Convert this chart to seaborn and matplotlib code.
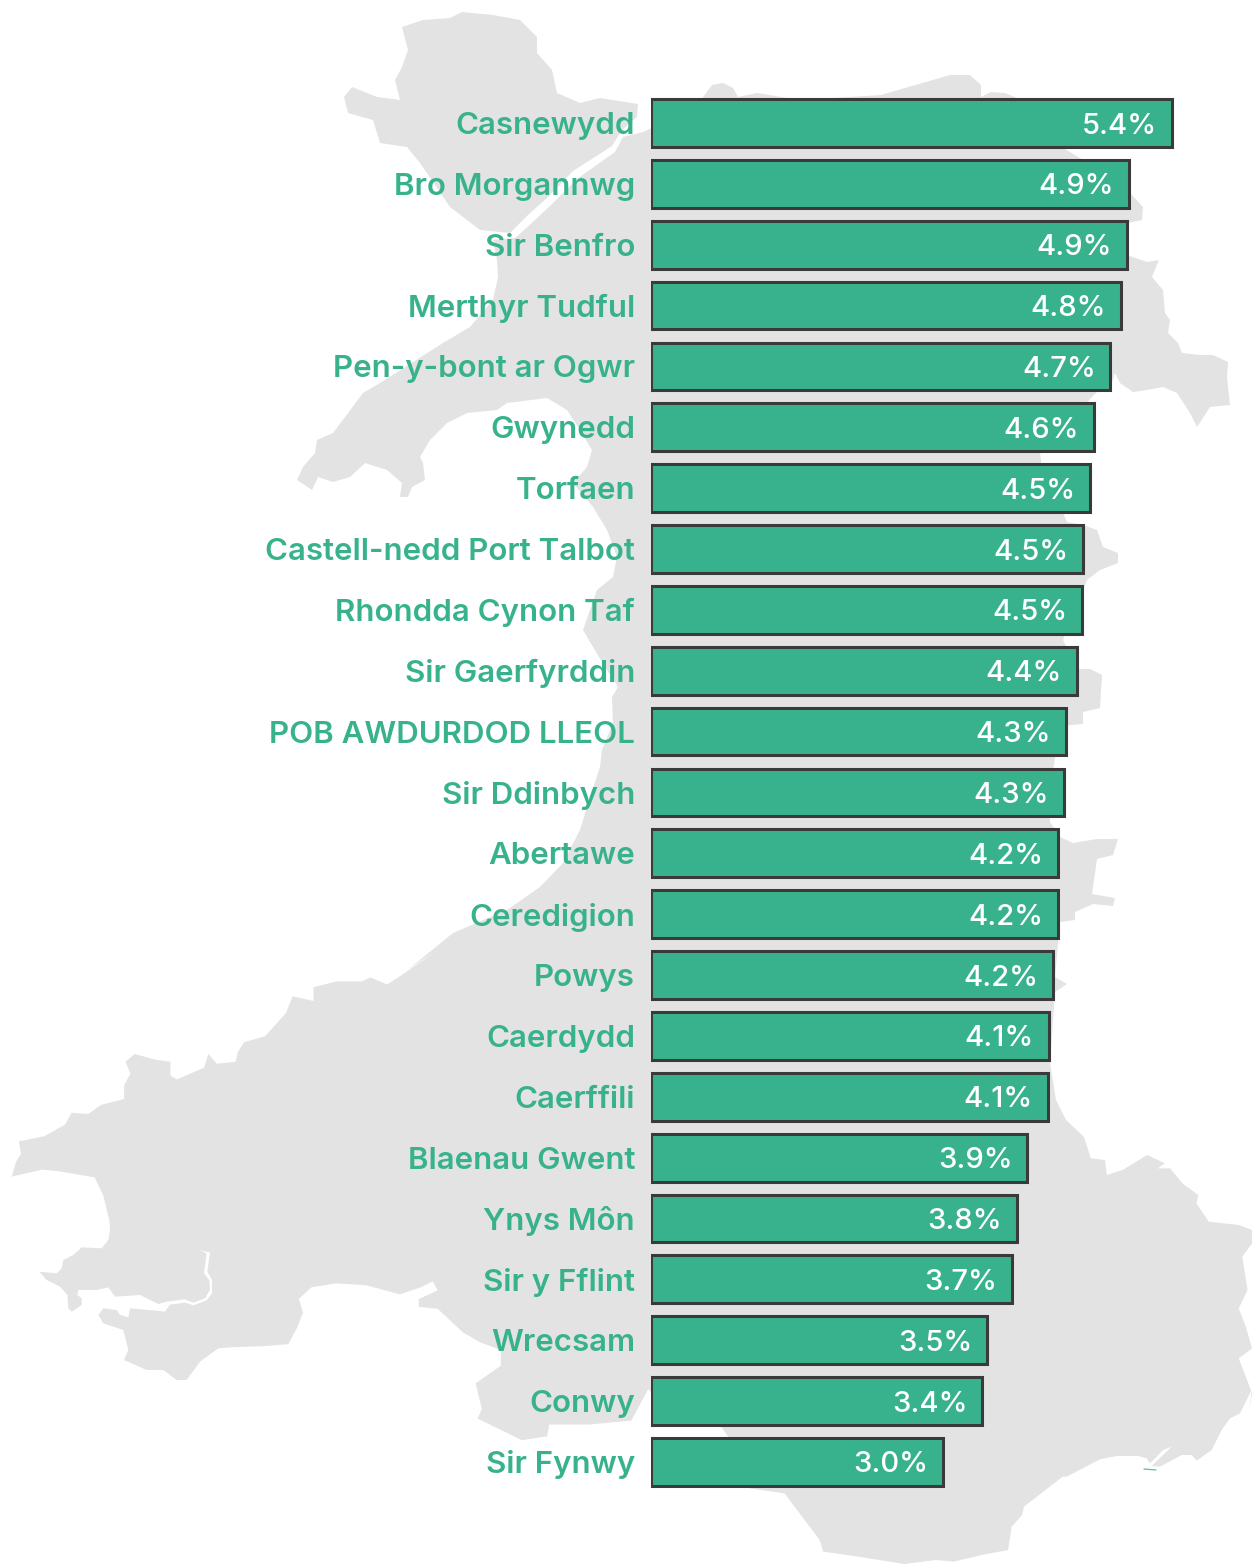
import matplotlib
matplotlib.use("Agg")
import matplotlib.pyplot as plt
import pandas as pd
import seaborn as sns

# ---------- data ----------
areas = ["Casnewydd", "Bro Morgannwg", "Sir Benfro", "Merthyr Tudful", "Pen-y-bont ar Ogwr",
         "Gwynedd", "Torfaen", "Castell-nedd Port Talbot", "Rhondda Cynon Taf", "Sir Gaerfyrddin",
         "POB AWDURDOD LLEOL", "Sir Ddinbych", "Abertawe", "Ceredigion", "Powys", "Caerdydd",
         "Caerffili", "Blaenau Gwent", "Ynys Môn", "Sir y Fflint", "Wrecsam", "Conwy", "Sir Fynwy"]
values = [5.40, 4.95, 4.93, 4.87, 4.76, 4.59, 4.55, 4.48, 4.47, 4.41, 4.30, 4.28,
          4.22, 4.22, 4.17, 4.12, 4.11, 3.90, 3.79, 3.74, 3.48, 3.43, 3.03]
value_labels = ["5.4%", "4.9%", "4.9%", "4.8%", "4.7%", "4.6%", "4.5%", "4.5%", "4.5%", "4.4%",
                "4.3%", "4.3%", "4.2%", "4.2%", "4.2%", "4.1%", "4.1%", "3.9%", "3.8%", "3.7%",
                "3.5%", "3.4%", "3.0%"]

# ---------- decorative map silhouette (image pixels) ----------
anglesey = [(638,104),(600,98),(580,103),(557,93),(552,70),(537,53),(537,37),(520,20),(493,15),
            (462,12),(450,18),(423,20),(402,27),(408,50),(402,67),(395,80),(400,100),(377,97),
            (352,87),(344,97),(348,113),(373,120),(380,143),(407,147),(420,163),(450,207),
            (480,230),(510,233),(528,215),(547,198),(573,171),(612,146),(622,130),(637,117)]

z3a = [(1040,0),(960,60),(920,88),(880,70),(860,80),(800,80),(745,95),(745,130),(695,118),(680,160),
       (630,220),(580,235),(565,260),(560,285),(515,290),(495,265),(485,300),(420,330),(405,320),
       (405,285),(370,280),(320,265),(298,285),(310,315),(295,345),(295,380),(240,395),(210,418),
       (170,415),(155,445),(105,475),(45,488),(50,520),(38,540),(28,578),(100,560),(145,565),(225,580),
       (245,625),(260,690)]
z3a = [(x / 2.376, 950 + y / 2.55) for x, y in z3a]

sw = [(240,0),(235,30),(215,55),(155,52),(130,75),(100,90),(95,115),(80,130),(28,125),(50,150),(90,170),
      (112,195),(115,235),(125,245),(155,225),(155,205),(142,195),(145,180),(200,180),(235,172),(255,200),
      (330,195),(385,222),(410,215),(465,208),(490,218),(525,205),(540,180),(538,150),(522,130),(530,70),
      (508,60),(540,68),(532,125),(546,150),(546,190),(530,211),(490,226),(465,218),(420,224),(405,245),
      (380,242),(300,235),(295,262),(270,255),(260,240),(220,235),(205,255),(220,280),(280,300),(295,360),
      (282,390),(350,420),(400,420),(440,450),(470,450),(510,395),(565,355),(600,352)]
sw = [(30 + x / 3, 1230 + y / 3) for x, y in sw]

z3b = [(630,1010),(685,1005),(705,965),(720,925),(710,890),(740,860),(800,850),(870,855),(950,878),
       (1000,860),(1028,845),(1040,868),(995,890),(995,910),(1040,915),(1100,975),(1140,1000),(1190,1020),
       (1190,1060),(1130,1105),(1145,1170),(1135,1195),(1240,1250),(1300,1240),(1305,1210),(1400,1210),
       (1500,1200),(1540,1120)]
z3b = [(x / 2.376, 950 + y / 2.55) for x, y in z3b]

z4a = [(1110,175),(1150,180),(1155,225),(1200,210),(1270,165),(1320,190),(1300,205),(1335,205),
       (1370,250),(1415,285),(1410,310),(1445,365),(1530,375),(1568,390),(1568,430),(1540,470),
       (1555,570),(1530,625),(1550,680),(1568,745),(1530,775),(1550,830),(1568,880),(1560,930)]
z4a = [(700 + x / 2.84, 1100 + y / 3) for x, y in z4a]

se = [(755,30),(720,100),(690,115),(665,150),(635,210),(590,242),(575,225),(545,225),(480,260),(455,258),
      (515,200),(490,210),(450,250),(440,235),(415,228),(350,228),(300,238),(200,290)]
se = [(1000 + x / 3, 1380 + y / 3) for x, y in se]

z4b = [(1030,1130),(920,1220),(915,1245),(885,1280),(875,1350),(800,1365),(720,1385),(670,1380),(580,1392),
       (450,1370),(350,1355),(340,1320),(290,1250),(240,1180),(140,1165),(80,1010),(60,980)]
z4b = [(700 + x / 2.84, 1100 + y / 3) for x, y in z4b]

mainland = ([(623,137),(643,132),(665,122),(695,108),(712,85),(723,83),(733,88),(738,97),(757,93),
             (800,100),(881,95),(905,88),(926,82),(950,75),(970,75),(981,85),(981,97),(991,92),(1005,93),
             (1015,97),(1040,130),(1063,148),(1080,158),(1130,193),(1143,207),(1142,220),(1128,223),
             (1127,255),(1147,262),(1159,260),(1152,277),(1163,290),(1165,313),(1170,320),(1168,333),
             (1178,343),(1182,353),(1200,355),(1213,355),(1228,362),(1227,377),(1230,405),(1210,407),
             (1197,427),(1190,413),(1177,393),(1163,387),(1147,390),(1133,392),(1120,383),(1115,373),
             (1110,388),(1097,392),(1060,430),(1040,453),(1045,490),(1063,513),(1067,522),(1083,525),
             (1097,530),(1103,547),(1118,553),(1118,563),(1100,570),(1087,580),(1063,640),(1078,669),
             (1090,669),(1102,675),(1100,708),(1083,712),(1083,724),(1060,726),(1050,790),(1050,822),
             (1060,837),(1073,843),(1097,839),(1118,839),(1113,855),(1097,859),(1092,894),(1115,898),
             (1113,906),(1093,904),(1075,912),(1075,920),(1060,922),(1055,977),(1067,984),(1055,992),
             (1050,1063),(1056,1100),(1066,1120),(1084,1137)]
            + z4a + se + z4b
            + [(700,1408),(660,1400)]
            + z3b[::-1] + sw[::-1] + z3a[::-1]
            + [(407,970),(420,960),(453,933),(467,927),(507,910),(540,887),(563,863),(580,830),(587,807),
               (600,767),(602,750),(613,723),(612,697),(618,687),(607,670),(593,647),(583,630),(597,590),
               (613,577),(617,557),(607,530),(593,507),(573,483),(587,467),(592,450),(580,430),(567,410),
               (547,398),(507,403),(497,410),(467,413),(447,423),(430,440),(420,457),(423,463),(425,480),
               (412,487),(408,497),(400,497),(402,483),(387,470),(365,463),(350,477),(333,482),(318,477),
               (312,490),(297,480),(303,467),(315,453),(317,440),(333,433),(345,417),(363,393),(380,383),
               (443,343),(470,327),(493,300),(498,277),(497,260),(493,240),(515,238),(533,222),(551,205),
               (577,179),(615,152)])
speck = [(1144,1469),(1156,1470)]

# ---------- layout ----------
W, H = 1252, 1564
BAR_X0, ROW0, ROW_STEP, PX_PER_UNIT = 651, 123, 60.86, 96.5
GREEN, EDGE, GREY = "#38B28C", "#3A3A3A", "#E3E3E3"

sns.set_theme(style="white")
plt.rcParams["font.family"] = ["Inter", "DejaVu Sans"]

fig = plt.figure(figsize=(W / 100, H / 100), dpi=100, facecolor="white")

bg = fig.add_axes([0, 0, 1, 1])
bg.set_xlim(0, W)
bg.set_ylim(H, 0)
bg.axis("off")
for poly in (anglesey, mainland):
    xs, ys = zip(*poly)
    bg.fill(xs, ys, color=GREY, lw=0)
xs, ys = zip(*speck)
bg.plot(xs, ys, color="#5FB6BC", lw=0.9)

ax = fig.add_axes([BAR_X0 / W, 0, 1 - BAR_X0 / W, 1])
ax.patch.set_alpha(0)
df = pd.DataFrame({"area": areas, "value": values})
sns.barplot(data=df, y="area", x="value", color=GREEN, saturation=1, width=0.785,
            edgecolor=EDGE, linewidth=2.2, ax=ax)
ax.set_xlim(0, (W - BAR_X0) / PX_PER_UNIT)
ax.set_ylim((H - ROW0) / ROW_STEP, -ROW0 / ROW_STEP)
ax.set_xlabel("")
ax.set_ylabel("")
ax.set_xticks([])
ax.tick_params(axis="y", length=0, pad=11.5)
for lab in ax.get_yticklabels():
    lab.set_fontsize(22.5)
    lab.set_color(GREEN)
    lab.set_fontweight(600)
sns.despine(ax=ax, left=True, bottom=True)

for i, (v, t) in enumerate(zip(values, value_labels)):
    ax.annotate(t, (v, i), xytext=(-10.5, 0), textcoords="offset points", ha="right",
                va="center_baseline", color="white", fontsize=21, fontweight=500)

fig.savefig("out.png", dpi=100)
